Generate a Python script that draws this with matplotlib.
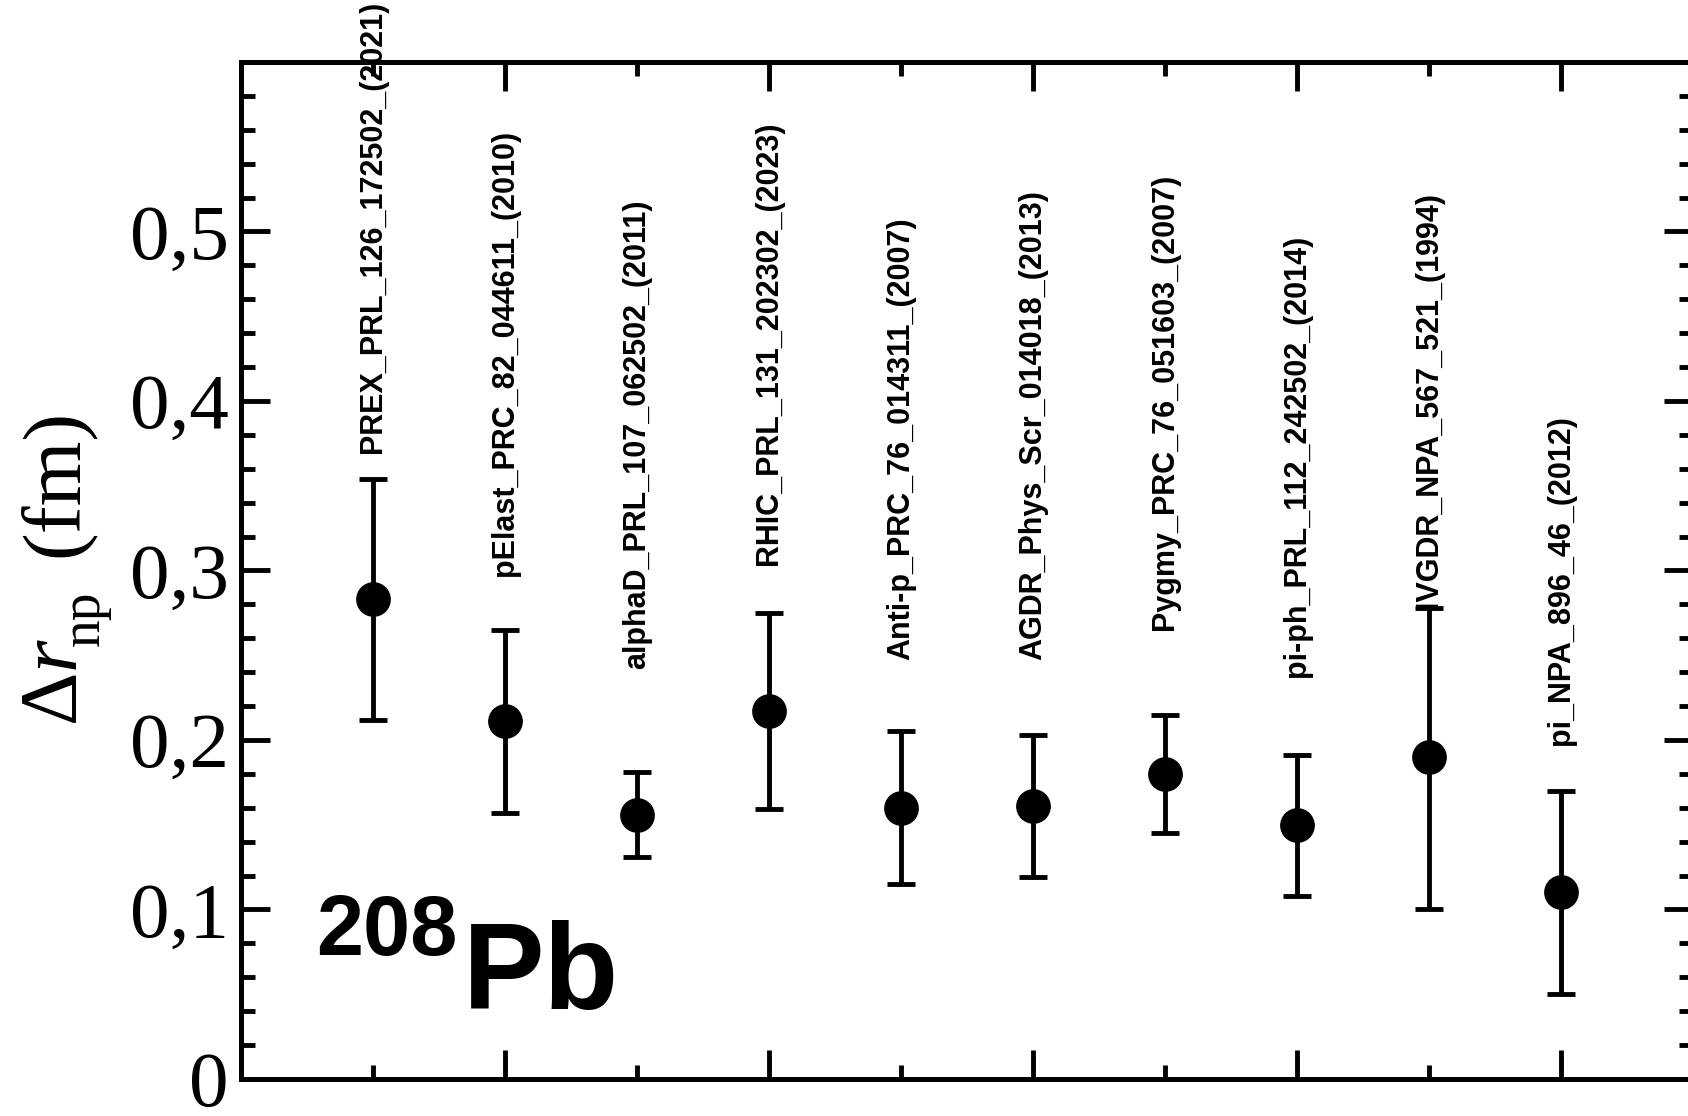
import matplotlib
matplotlib.use("Agg")
import matplotlib.pyplot as plt
from matplotlib.ticker import FixedLocator, MultipleLocator, NullFormatter

plt.rcParams['mathtext.fontset'] = 'custom'
plt.rcParams['mathtext.rm'] = 'Liberation Serif'
plt.rcParams['mathtext.it'] = 'Liberation Serif:italic'

# neutron skin of 208Pb from different experiments
refs = ["PREX_PRL_126_172502_(2021)", "pElast_PRC_82_044611_(2010)",
        "alphaD_PRL_107_062502_(2011)", "RHIC_PRL_131_202302_(2023)",
        "Anti-p_PRC_76_014311_(2007)", "AGDR_Phys_Scr_014018_(2013)",
        "Pygmy_PRC_76_051603_(2007)", "pi-ph_PRL_112_242502_(2014)",
        "IVGDR_NPA_567_521_(1994)", "pi_NPA_896_46_(2012)"]
xpos = [1, 2, 3, 4, 5, 6, 7, 8, 9, 10]
dr_np = [0.283, 0.211, 0.156, 0.217, 0.160, 0.161, 0.180, 0.150, 0.190, 0.110]
err_hi = [0.071, 0.054, 0.025, 0.058, 0.045, 0.042, 0.035, 0.041, 0.088, 0.060]
err_lo = [0.071, 0.054, 0.025, 0.058, 0.045, 0.042, 0.035, 0.042, 0.090, 0.060]
label_y = [0.369, 0.297, 0.242, 0.303, 0.247, 0.247, 0.265, 0.237, 0.278, 0.197]

yticks = [0, 0.1, 0.2, 0.3, 0.4, 0.5]
ytick_labels = ["0", "0,1", "0,2", "0,3", "0,4", "0,5"]

fig = plt.figure(figsize=(16.88, 11.16), dpi=100)
ax = fig.add_axes([0.1428, 0.0332, 0.860, 0.9113])

ax.errorbar(xpos, dr_np, yerr=[err_lo, err_hi], fmt="o", color="black",
            markersize=24, elinewidth=3.5, capsize=10, capthick=3.5)

for x, y, txt in zip(xpos, label_y, refs):
    ax.text(x, y, txt, rotation=90, ha="center", va="bottom",
            family="Liberation Sans", weight="bold", fontsize=22, clip_on=False)

ax.text(0.57, 0.073, "208", family="Liberation Sans", weight="bold", fontsize=61,
        ha="left", va="baseline")
ax.text(1.68, 0.041, "Pb", family="Liberation Sans", weight="bold", fontsize=88,
        ha="left", va="baseline")

ax.set_xlim(0, 11)
ax.set_ylim(0, 0.6)
ax.xaxis.set_major_locator(FixedLocator([2, 4, 6, 8, 10]))
ax.xaxis.set_minor_locator(FixedLocator([1, 3, 5, 7, 9]))
ax.xaxis.set_major_formatter(NullFormatter())
ax.yaxis.set_major_locator(FixedLocator(yticks))
ax.set_yticklabels(ytick_labels, family="Liberation Serif", fontsize=57)
ax.yaxis.set_minor_locator(MultipleLocator(0.02))

ax.tick_params(which="both", direction="in", top=True, right=True, width=3.5)
ax.tick_params(which="major", length=21, pad=9)
ax.tick_params(which="minor", length=10)
for s in ax.spines.values():
    s.set_linewidth(3.6)

# y label built from pieces: the subscript sits well below the baseline
ylab = dict(rotation=90, rotation_mode="anchor", ha="left", va="baseline")
fig.text(0.0456, 0.3495, r"$\Delta r$", fontsize=60, **ylab)
fig.text(0.0585, 0.4215, "np", family="Liberation Serif", fontsize=40, **ylab)
fig.text(0.0456, 0.501, "(fm)", family="Liberation Serif", fontsize=60, **ylab)

fig.savefig("out.png", dpi=100)
